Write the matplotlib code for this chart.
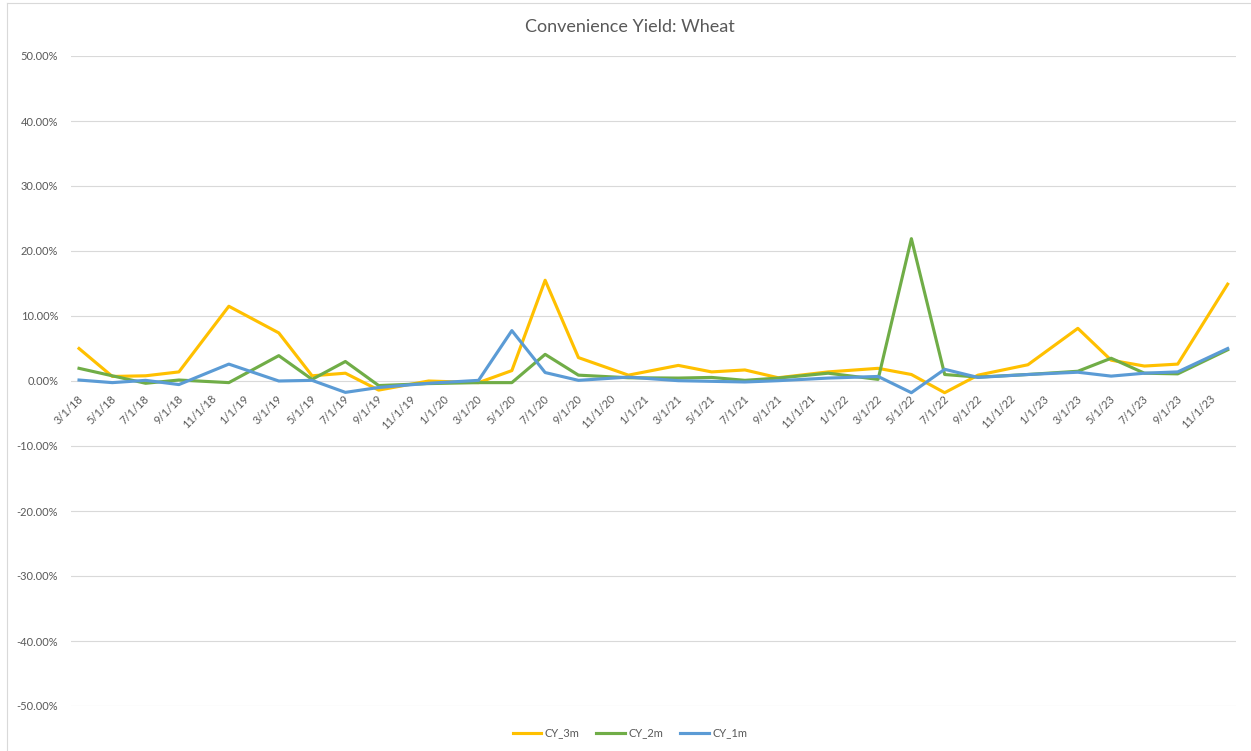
import matplotlib.pyplot as plt
from matplotlib.lines import Line2D
from matplotlib.ticker import FuncFormatter
import matplotlib.transforms as mtransforms

plt.rcParams['font.family'] = ['Lato', 'DejaVu Sans']

# wheat contract months (Mar, May, Jul, Sep, Dec)
dates = ["3/1/18", "5/1/18", "7/1/18", "9/1/18", "12/1/18",
         "3/1/19", "5/1/19", "7/1/19", "9/1/19", "12/1/19",
         "3/1/20", "5/1/20", "7/1/20", "9/1/20", "12/1/20",
         "3/1/21", "5/1/21", "7/1/21", "9/1/21", "12/1/21",
         "3/1/22", "5/1/22", "7/1/22", "9/1/22", "12/1/22",
         "3/1/23", "5/1/23", "7/1/23", "9/1/23", "12/1/23"]

# convenience yield, percent
cy_3m = [5.0, 0.7, 0.8, 1.4, 11.5,
         7.4, 0.8, 1.2, -1.4, 0.0,
         -0.25, 1.6, 15.5, 3.6, 0.9,
         2.4, 1.4, 1.7, 0.5, 1.4,
         1.95, 1.0, -1.8, 0.9, 2.5,
         8.1, 3.2, 2.3, 2.6, 14.9]
cy_2m = [1.95, 0.8, -0.35, 0.15, -0.25,
         3.9, 0.25, 3.0, -0.7, -0.4,
         -0.25, -0.25, 4.1, 0.9, 0.5,
         0.45, 0.55, 0.1, 0.45, 1.2,
         0.25, 21.9, 1.0, 0.6, 1.0,
         1.5, 3.5, 1.2, 1.1, 4.8]
cy_1m = [0.15, -0.25, 0.1, -0.55, 2.6,
         0.0, 0.1, -1.75, -1.0, -0.35,
         0.1, 7.75, 1.3, 0.1, 0.6,
         0.05, -0.05, -0.15, 0.05, 0.45,
         0.7, -1.8, 1.8, 0.55, 1.0,
         1.35, 0.75, 1.2, 1.4, 5.0]

tick_labels = ["3/1/18", "5/1/18", "7/1/18", "9/1/18", "11/1/18",
               "1/1/19", "3/1/19", "5/1/19", "7/1/19", "9/1/19", "11/1/19",
               "1/1/20", "3/1/20", "5/1/20", "7/1/20", "9/1/20", "11/1/20",
               "1/1/21", "3/1/21", "5/1/21", "7/1/21", "9/1/21", "11/1/21",
               "1/1/22", "3/1/22", "5/1/22", "7/1/22", "9/1/22", "11/1/22",
               "1/1/23", "3/1/23", "5/1/23", "7/1/23", "9/1/23", "11/1/23"]


def month_index(d):
    m, _, y = d.split('/')
    return (int(y) - 18) * 12 + int(m) - 3


x = [month_index(d) for d in dates]
xt = [month_index(d) for d in tick_labels]

txt = '#595959'
grid = '#d9d9d9'

fig = plt.figure(figsize=(12.51, 7.51), dpi=100)
ax = fig.add_axes([70.7 / 1251, 1 - 706 / 751, (1236 - 70.7) / 1251, 650 / 751])

ax.plot(x, cy_3m, color='#FFC000', lw=2.25, label='CY_3m', solid_joinstyle='round')
ax.plot(x, cy_2m, color='#70AD47', lw=2.25, label='CY_2m', solid_joinstyle='round')
ax.plot(x, cy_1m, color='#5B9BD5', lw=2.25, label='CY_1m', solid_joinstyle='round')

ax.set_ylim(-50, 50)
ax.set_xlim(x[0] - 0.5, x[-1] + 0.5)
ax.set_yticks(range(-50, 51, 10))
ax.yaxis.set_major_formatter(FuncFormatter(lambda v, p: f"{v:.2f}%"))
ax.grid(axis='y', color=grid, lw=0.8)
ax.set_axisbelow(True)

for s in ['left', 'right', 'top']:
    ax.spines[s].set_visible(False)
ax.spines['bottom'].set_position(('data', 0))
ax.spines['bottom'].set_visible(False)

ax.set_xticks(xt)
ax.set_xticklabels(tick_labels, rotation=45, ha='right', va='center', rotation_mode='anchor')
ax.tick_params(axis='both', length=0, labelsize=8, labelcolor=txt)
ax.tick_params(axis='y', pad=9)
ax.tick_params(axis='x', pad=11.5)
off = mtransforms.ScaledTranslation(1.5 / 72, 0, fig.dpi_scale_trans)
for lab in ax.get_xticklabels():
    lab.set_transform(lab.get_transform() + off)

fig.text(0.5035, 1 - 27 / 751, 'Convenience Yield: Wheat', ha='center', va='center',
         fontsize=13, color=txt)

leg = ax.legend(loc='center', bbox_to_anchor=(0.5035, 1 - 733 / 751),
                bbox_transform=fig.transFigure, ncol=3, frameon=False, fontsize=8,
                handlelength=2.6, columnspacing=1.5, handletextpad=0.3)
for t in leg.get_texts():
    t.set_color(txt)

# chart area border (only left and top edges visible in the crop)
fig.add_artist(Line2D([7 / 1251, 7 / 1251], [0, 1 - 3 / 751], transform=fig.transFigure,
                      color=grid, lw=0.8))
fig.add_artist(Line2D([7 / 1251, 1], [1 - 3 / 751, 1 - 3 / 751], transform=fig.transFigure,
                      color=grid, lw=0.8))

fig.savefig('out.png', dpi=100)
